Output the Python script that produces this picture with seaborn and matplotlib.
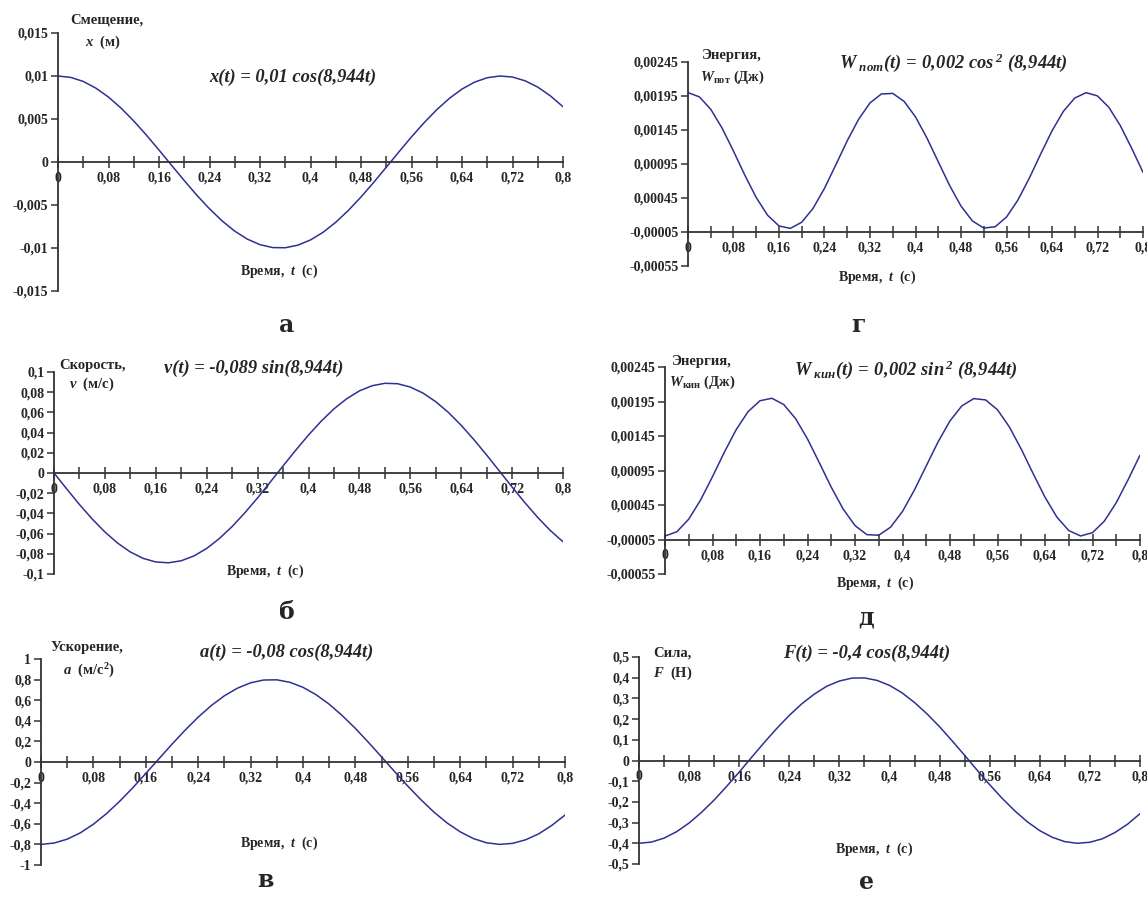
import matplotlib
matplotlib.use("Agg")
import matplotlib.pyplot as plt
import seaborn as sns
from matplotlib.ticker import FixedLocator, FixedFormatter, NullFormatter

# time grid, s
t = [0.00, 0.02, 0.04, 0.06, 0.08, 0.10, 0.12, 0.14, 0.16, 0.18,
     0.20, 0.22, 0.24, 0.26, 0.28, 0.30, 0.32, 0.34, 0.36, 0.38,
     0.40, 0.42, 0.44, 0.46, 0.48, 0.50, 0.52, 0.54, 0.56, 0.58,
     0.60, 0.62, 0.64, 0.66, 0.68, 0.70, 0.72, 0.74, 0.76, 0.78, 0.80]

x_disp = [0.0100, 0.00984, 0.00937, 0.00859, 0.00755, 0.00626, 0.00477, 0.00313, 0.00139, -0.00039,
          -0.00216, -0.00387, -0.00544, -0.00685, -0.00804, -0.00897, -0.00961, -0.00995, -0.00997, -0.00967,
          -0.00906, -0.00817, -0.00701, -0.00563, -0.00407, -0.00238, -0.00061, 0.00117, 0.00292, 0.00457,
          0.00608, 0.00740, 0.00848, 0.00929, 0.00980, 0.01000, 0.00988, 0.00944, 0.00871, 0.00769, 0.00643]

v_vel = [0.0, -0.0158, -0.0312, -0.0455, -0.0584, -0.0694, -0.0782, -0.0845, -0.0881, -0.0889,
         -0.0869, -0.0821, -0.0747, -0.0648, -0.0530, -0.0394, -0.0246, -0.0089, 0.0070, 0.0226,
         0.0376, 0.0513, 0.0635, 0.0735, 0.0813, 0.0864, 0.0888, 0.0884, 0.0851, 0.0791,
         0.0706, 0.0599, 0.0472, 0.0330, 0.0178, 0.0020, -0.0139, -0.0293, -0.0438, -0.0569, -0.0681]

a_acc = [-0.800, -0.787, -0.749, -0.688, -0.604, -0.501, -0.382, -0.251, -0.111, 0.031,
         0.173, 0.309, 0.436, 0.548, 0.643, 0.717, 0.769, 0.796, 0.798, 0.774,
         0.725, 0.653, 0.561, 0.450, 0.326, 0.190, 0.049, -0.094, -0.234, -0.366,
         -0.487, -0.592, -0.678, -0.743, -0.784, -0.800, -0.790, -0.755, -0.697, -0.615, -0.515]

f_force = [-0.400, -0.394, -0.375, -0.344, -0.302, -0.250, -0.191, -0.125, -0.056, 0.016,
           0.087, 0.155, 0.218, 0.274, 0.321, 0.359, 0.384, 0.398, 0.399, 0.387,
           0.363, 0.327, 0.280, 0.225, 0.163, 0.095, 0.025, -0.047, -0.117, -0.183,
           -0.243, -0.296, -0.339, -0.371, -0.392, -0.400, -0.395, -0.378, -0.348, -0.308, -0.257]

w_pot = [0.002000, 0.001937, 0.001755, 0.001477, 0.001139, 0.000784, 0.000456, 0.000196, 0.000039, 0.000003,
         0.000094, 0.000299, 0.000593, 0.000939, 0.001292, 0.001608, 0.001848, 0.001980, 0.001988, 0.001871,
         0.001643, 0.001334, 0.000983, 0.000634, 0.000331, 0.000113, 0.000008, 0.000027, 0.000170, 0.000419,
         0.000740, 0.001095, 0.001437, 0.001725, 0.001920, 0.001999, 0.001951, 0.001783, 0.001516, 0.001183, 0.000828]

w_kin = [0.000000, 0.000063, 0.000245, 0.000523, 0.000861, 0.001216, 0.001544, 0.001804, 0.001961, 0.001997,
         0.001906, 0.001701, 0.001407, 0.001061, 0.000708, 0.000392, 0.000152, 0.000020, 0.000012, 0.000129,
         0.000357, 0.000666, 0.001017, 0.001366, 0.001669, 0.001887, 0.001992, 0.001973, 0.001830, 0.001581,
         0.001260, 0.000905, 0.000563, 0.000275, 0.000080, 0.000001, 0.000049, 0.000217, 0.000484, 0.000817, 0.001172]

x_major = [0, 0.08, 0.16, 0.24, 0.32, 0.4, 0.48, 0.56, 0.64, 0.72, 0.8]
x_major_labels = ["0", "0,08", "0,16", "0,24", "0,32", "0,4", "0,48", "0,56", "0,64", "0,72", "0,8"]
x_minor = [0.04, 0.12, 0.2, 0.28, 0.36, 0.44, 0.52, 0.6, 0.68, 0.76]

y_x = [-0.015, -0.01, -0.005, 0, 0.005, 0.01, 0.015]
y_x_labels = ["-0,015", "-0,01", "-0,005", "0", "0,005", "0,01", "0,015"]
y_v = [-0.1, -0.08, -0.06, -0.04, -0.02, 0, 0.02, 0.04, 0.06, 0.08, 0.1]
y_v_labels = ["-0,1", "-0,08", "-0,06", "-0,04", "-0,02", "0", "0,02", "0,04", "0,06", "0,08", "0,1"]
y_a = [-1, -0.8, -0.6, -0.4, -0.2, 0, 0.2, 0.4, 0.6, 0.8, 1]
y_a_labels = ["-1", "-0,8", "-0,6", "-0,4", "-0,2", "0", "0,2", "0,4", "0,6", "0,8", "1"]
y_f = [-0.5, -0.4, -0.3, -0.2, -0.1, 0, 0.1, 0.2, 0.3, 0.4, 0.5]
y_f_labels = ["-0,5", "-0,4", "-0,3", "-0,2", "-0,1", "0", "0,1", "0,2", "0,3", "0,4", "0,5"]
y_w = [-0.00055, -0.00005, 0.00045, 0.00095, 0.00145, 0.00195, 0.00245]
y_w_labels = ["-0,00055", "-0,00005", "0,00045", "0,00095", "0,00145", "0,00195", "0,00245"]

sns.set_style("white")
plt.rcParams["font.family"] = ["Liberation Serif", "DejaVu Serif"]
plt.rcParams["font.weight"] = "bold"
plt.rcParams["mathtext.fontset"] = "custom"
plt.rcParams["mathtext.it"] = "Liberation Serif:italic:bold"
plt.rcParams["mathtext.rm"] = "Liberation Serif:italic:bold"
plt.rcParams["mathtext.sf"] = "Liberation Serif:bold"
plt.rcParams["mathtext.bf"] = "Liberation Serif:bold"

W, H = 1147, 907
fig = plt.figure(figsize=(W / 100, H / 100), dpi=100)
LINE = "#2E3192"
AXC = "#333333"
TICK = 10
LAB = 10.5
TTL = 13.3


def px(x, y, s, size=LAB, ha="center", **kw):
    fig.text(x / W, 1 - y / H, s, ha=ha, va="center", fontsize=size,
             fontweight="bold", **kw)


def panel(rect, y, yticks, ylabels, ybase):
    l, tp, r, b = rect
    ax = fig.add_axes([l / W, 1 - b / H, (r - l) / W, (b - tp) / H])
    sns.lineplot(x=t, y=y, ax=ax, color=LINE, linewidth=1.1)
    ax.set_xlim(0, 0.8)
    ax.set_ylim(yticks[0], yticks[-1])
    for s in ["top", "right"]:
        ax.spines[s].set_visible(False)
    ax.spines["left"].set_position(("data", 0))
    ax.spines["bottom"].set_position(("data", ybase))
    for s in ["left", "bottom"]:
        ax.spines[s].set_color(AXC)
        ax.spines[s].set_linewidth(1.3)
    ax.xaxis.set_major_locator(FixedLocator(x_major))
    ax.xaxis.set_major_formatter(FixedFormatter(x_major_labels))
    ax.xaxis.set_minor_locator(FixedLocator(x_minor))
    ax.xaxis.set_minor_formatter(NullFormatter())
    ax.yaxis.set_major_locator(FixedLocator(yticks))
    ax.yaxis.set_major_formatter(FixedFormatter(ylabels))
    ax.tick_params(axis="x", which="both", direction="inout", length=8,
                   width=1.1, color=AXC, pad=3, labelsize=TICK, bottom=True)
    ax.tick_params(axis="y", direction="out", length=5, width=1.1,
                   color=AXC, pad=2, labelsize=TICK, left=True)
    for lab in ax.get_xticklabels() + ax.get_yticklabels():
        lab.set_fontweight("bold")
    ax.set_xlabel("")
    ax.set_ylabel("")
    ax.patch.set_alpha(0)
    return ax


# а
panel((58, 33, 563, 291), x_disp, y_x, y_x_labels, 0)
px(107, 20, "Смещение,")
px(103, 42, "$x$  (м)")
px(293, 77, "x(t) = 0,01 cos(8,944t)", size=TTL, fontstyle="italic")
px(279, 271, "Время,  $t$  (с)", size=10)
px(287, 325, "а", size=17, family="DejaVu Serif")

# б
panel((54, 372, 563, 574), v_vel, y_v, y_v_labels, 0)
px(92, 366, "Скорость,")
px(92, 384, "$v$  (м/с)")
px(254, 368, "v(t) = -0,089 sin(8,944t)", size=TTL, fontstyle="italic")
px(265, 571, "Время,  $t$  (с)", size=10)
px(287, 612, "б", size=17, family="DejaVu Serif")

# в
panel((41, 659, 565, 865), a_acc, y_a, y_a_labels, 0)
px(87, 648, "Ускорение,")
px(89, 671, r"$a$  (м/с$^{\mathsf{2}}$)")
px(287, 652, "a(t) = -0,08 cos(8,944t)", size=TTL, fontstyle="italic")
px(279, 843, "Время,  $t$  (с)", size=10)
px(265, 880, "в", size=17, family="DejaVu Serif")

# г
panel((688, 62, 1143, 266), w_pot, y_w, y_w_labels, -0.00005)
px(732, 55, "Энергия,")
px(732, 77, r"$W_{\mathsf{пот}}$ (Дж)")
px(953, 63, r"$W_{\ пот}(t)\,=\,0,\!002\ cos^{\,2}\ (8,\!944t)$", size=TTL)
px(877, 277, "Время,  $t$  (с)", size=10)
px(858, 325, "г", size=17, family="DejaVu Serif")

# д
panel((665, 367, 1140, 574), w_kin, y_w, y_w_labels, -0.00005)
px(702, 361, "Энергия,")
px(702, 382, r"$W_{\mathsf{кин}}$ (Дж)")
px(906, 370, r"$W_{\ кин}(t)\,=\,0,\!002\ sin^{\,2}\ (8,\!944t)$", size=TTL)
px(875, 583, "Время,  $t$  (с)", size=10)
px(866, 617, "д", size=17, family="DejaVu Serif")

# е
panel((639, 657, 1140, 864), f_force, y_f, y_f_labels, 0)
px(653, 653, "Сила,", ha="left")
px(653, 673, "$F$  (Н)", ha="left")
px(867, 653, "F(t) = -0,4 cos(8,944t)", size=TTL, fontstyle="italic")
px(874, 849, "Время,  $t$  (с)", size=10)
px(866, 882, "е", size=17, family="DejaVu Serif")

fig.savefig("out.png", dpi=100)
